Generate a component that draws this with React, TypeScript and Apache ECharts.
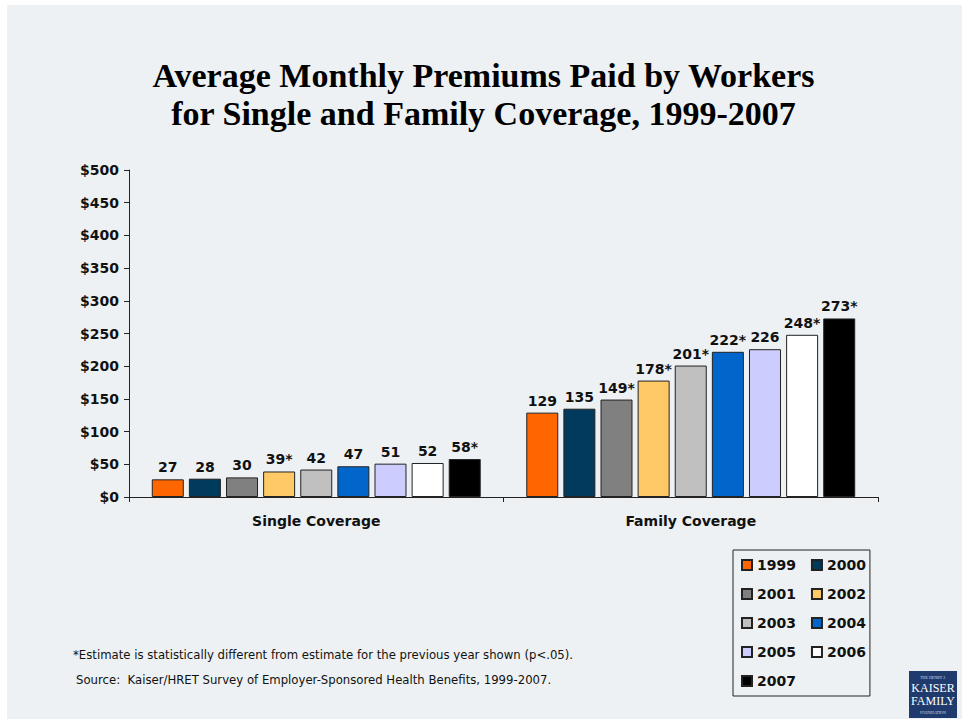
import React, { useEffect, useRef } from "react";
import * as echarts from "echarts";

const categories = ["Single Coverage", "Family Coverage"];
const years = ["1999", "2000", "2001", "2002", "2003", "2004", "2005", "2006", "2007"];
const singleValues = [27, 28, 30, 39, 42, 47, 51, 52, 58];
const familyValues = [129, 135, 149, 178, 201, 222, 226, 248, 273];
const singleSignificant = [false, false, false, true, false, false, false, false, true];
const familySignificant = [false, false, true, true, true, true, false, true, true];
const yearColors = ["#FF6600", "#003A5C", "#808080", "#FFC966", "#C0C0C0", "#0066CC", "#CCCCFF", "#FFFFFF", "#000000"];
const yMin = 0;
const yMax = 500;
const yInterval = 50;

const titleText = "Average Monthly Premiums Paid by Workers\nfor Single and Family Coverage, 1999-2007";
const footnote = "*Estimate is statistically different from estimate for the previous year shown (p<.05).";
const sourceNote = "Source:  Kaiser/HRET Survey of Employer-Sponsored Health Benefits, 1999-2007.";

const SANS = "'DejaVu Sans', Verdana, sans-serif";

export default function App() {
  const ref = useRef<HTMLDivElement>(null);
  useEffect(() => {
    if (!ref.current) return;
    const chart = echarts.init(ref.current, undefined, { renderer: "svg" });
    const series = years.map((y, i) => ({
      name: y,
      type: "bar",
      data: [singleValues[i], familyValues[i]],
      barWidth: 32,
      barGap: "16%",
      itemStyle: { color: yearColors[i], borderColor: "#222", borderWidth: 1 },
      label: {
        show: true,
        position: "top",
        distance: 5,
        color: "#111",
        fontFamily: SANS,
        fontWeight: "bold",
        fontSize: 14,
        formatter: (p: any) => {
          const sig = p.dataIndex === 0 ? singleSignificant[i] : familySignificant[i];
          return String(p.value) + (sig ? "*" : "");
        },
      },
    }));
    chart.setOption({
      animation: false,
      backgroundColor: "#FFFFFF",
      title: {
        text: titleText,
        left: "center",
        top: 56,
        padding: 0,
        textStyle: {
          fontFamily: "'Liberation Serif', 'Times New Roman', serif",
          fontWeight: "bold",
          fontSize: 34,
          lineHeight: 38,
          color: "#000",
        },
      },
      grid: { left: 129, right: 89, top: 170, bottom: 228, containLabel: false },
      xAxis: {
        type: "category",
        data: categories,
        axisLine: { lineStyle: { color: "#222", width: 1 } },
        axisTick: { show: true, length: 5, lineStyle: { color: "#222" } },
        axisLabel: {
          margin: 17,
          color: "#111",
          fontFamily: SANS,
          fontWeight: "bold",
          fontSize: 14,
        },
      },
      yAxis: {
        type: "value",
        min: yMin,
        max: yMax,
        interval: yInterval,
        splitLine: { show: false },
        axisLine: { show: true, lineStyle: { color: "#222", width: 1 } },
        axisTick: { show: true, length: 5, lineStyle: { color: "#222" } },
        axisLabel: {
          margin: 10,
          color: "#111",
          fontFamily: SANS,
          fontWeight: "bold",
          fontSize: 14,
          formatter: (v: number) => "$" + v,
        },
      },
      legend: {
        data: years,
        orient: "horizontal",
        left: 733,
        top: 550,
        width: 135,
        padding: [8, 4, 8, 8],
        itemGap: 15,
        itemWidth: 10,
        itemHeight: 10,
        icon: "rect",
        borderColor: "#222",
        borderWidth: 1,
        backgroundColor: "#EDF1F4",
        textStyle: { fontFamily: SANS, fontWeight: "bold", fontSize: 14, color: "#111" },
      },
      graphic: [
        {
          type: "rect",
          z: -10,
          silent: true,
          shape: { x: 7, y: 5, width: 955, height: 714 },
          style: { fill: "#EDF1F4" },
        },
        {
          type: "text",
          left: 73,
          top: 649,
          style: { text: footnote, font: "11.7px 'DejaVu Sans', Verdana, sans-serif", fill: "#111" },
        },
        {
          type: "text",
          left: 76,
          top: 674,
          style: { text: sourceNote, font: "11.7px 'DejaVu Sans', Verdana, sans-serif", fill: "#111" },
        },
        {
          type: "group",
          left: 909,
          top: 671,
          children: [
            { type: "rect", shape: { x: 0, y: 0, width: 48, height: 47 }, style: { fill: "#1F3B6E" } },
            { type: "text", x: 24, y: 6, style: { text: "THE HENRY J.", font: "4px 'Liberation Serif', serif", fill: "#D8DDEA", align: "center", verticalAlign: "middle" } },
            { type: "text", x: 24, y: 17, style: { text: "KAISER", font: "12px 'Liberation Serif', serif", fill: "#FFFFFF", align: "center", verticalAlign: "middle" } },
            { type: "text", x: 24, y: 30, style: { text: "FAMILY", font: "12px 'Liberation Serif', serif", fill: "#FFFFFF", align: "center", verticalAlign: "middle" } },
            { type: "text", x: 24, y: 41, style: { text: "FOUNDATION", font: "4px 'Liberation Serif', serif", fill: "#D8DDEA", align: "center", verticalAlign: "middle" } },
          ],
        },
      ],
      series,
    });
    return () => chart.dispose();
  }, []);
  return (
    <div
      ref={ref}
      style={{ position: "absolute", left: 0, top: 0, width: 967, height: 725 }}
    />
  );
}
